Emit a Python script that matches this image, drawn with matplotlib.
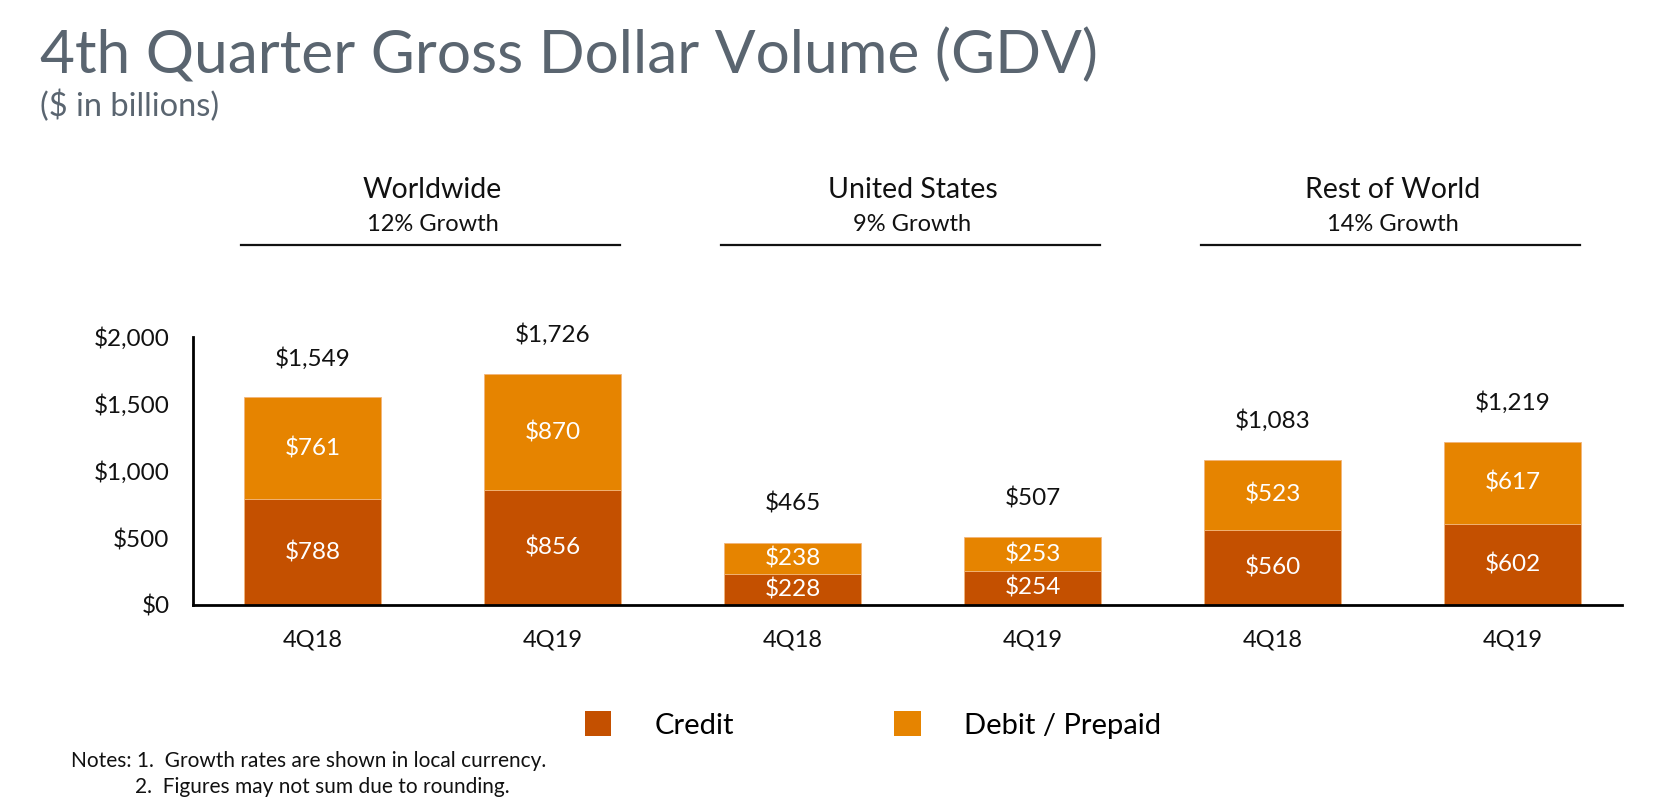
import matplotlib
matplotlib.use("Agg")
import matplotlib.pyplot as plt
from matplotlib.patches import Patch
import numpy as np

plt.rcParams['font.family'] = ['Lato', 'DejaVu Sans']

# data ($ in billions)
regions = ['Worldwide', 'United States', 'Rest of World']
growth = ['12% Growth', '9% Growth', '14% Growth']
quarters = ['4Q18', '4Q19', '4Q18', '4Q19', '4Q18', '4Q19']
credit = [788, 856, 228, 254, 560, 602]
debit = [761, 870, 238, 253, 523, 617]
totals = [1549, 1726, 465, 507, 1083, 1219]
yticks = [0, 500, 1000, 1500, 2000]

c_credit = '#C45000'
c_debit = '#E68400'

fig = plt.figure(figsize=(16.57, 8.05), dpi=100)
ax = fig.add_axes([193/1657, 1-605/805, (1622-193)/1657, 268/805])

x = np.arange(len(quarters))
w = 0.57
ax.bar(x, credit, w, color=c_credit, edgecolor='#F2B57A', linewidth=0.6)
ax.bar(x, debit, w, bottom=credit, color=c_debit, edgecolor='#F2B57A', linewidth=0.6)

# values inside the segments
for i in range(len(x)):
    ax.text(x[i], credit[i]/2, '$%d' % credit[i], ha='center', va='center',
            color='white', fontsize=17.5)
    ax.text(x[i], credit[i] + debit[i]/2, '$%d' % debit[i], ha='center', va='center',
            color='white', fontsize=17.5)
    ax.annotate('${:,}'.format(totals[i]), (x[i], credit[i] + debit[i]),
                xytext=(0, 28), textcoords='offset points', ha='center', va='center',
                fontsize=17.5, color='#111111', annotation_clip=False)

ax.set_xlim(-0.498, 5.456)
ax.set_ylim(0, 2000)
ax.set_yticks(yticks)
ax.set_yticklabels(['${:,}'.format(v) for v in yticks], fontsize=17.5, color='#111111')
ax.set_xticks(x)
ax.set_xticklabels(quarters, fontsize=17, color='#111111')
ax.tick_params(axis='y', length=0, pad=17)
ax.tick_params(axis='x', length=0, pad=18)
for s in ['top', 'right']:
    ax.spines[s].set_visible(False)
ax.spines['left'].set_linewidth(2)
ax.spines['bottom'].set_linewidth(2)

# group headers
tr = ax.get_xaxis_transform()
for g in range(len(regions)):
    a, b = 2*g, 2*g + 1
    mid = (a + b) / 2
    ax.text(mid, 1.549, regions[g], transform=tr, ha='center', va='center',
            fontsize=20.5, color='#111111')
    ax.text(mid, 1.418, growth[g], transform=tr, ha='center', va='center',
            fontsize=17, color='#111111')
    ax.plot([a - 0.3, b + 0.28], [1.343, 1.343], transform=tr, color='#111111',
            lw=1.6, clip_on=False)

# title
fig.text(40/1657, 1-55/805, '4th Quarter Gross Dollar Volume (GDV)', fontsize=43.5,
         color='#5A6570', ha='left', va='center')
fig.text(40/1657, 1-106/805, '($ in billions)', fontsize=23.5,
         color='#5A6570', ha='left', va='center')

# legend
handles = [Patch(facecolor=c_credit, edgecolor='none', label='Credit'),
           Patch(facecolor=c_debit, edgecolor='none', label='Debit / Prepaid')]
fig.legend(handles=handles, loc='center', bbox_to_anchor=(873/1657, 1-725/805), ncol=2,
           frameon=False, fontsize=21, handlelength=0.9, handleheight=0.9,
           handletextpad=1.48, columnspacing=5.5)

# notes
fig.text(71/1657, 1-761/805, 'Notes: 1.  Growth rates are shown in local currency.',
         fontsize=15, color='#111111', va='center')
fig.text(135/1657, 1-787/805, '2.  Figures may not sum due to rounding.',
         fontsize=15, color='#111111', va='center')

fig.savefig('out.png', dpi=100)
